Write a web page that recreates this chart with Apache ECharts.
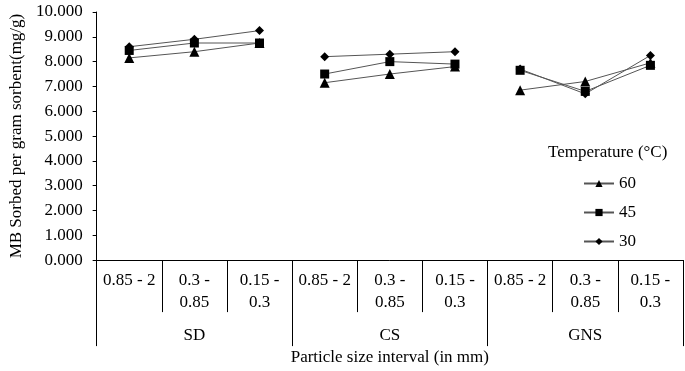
<!DOCTYPE html>
<html>
<head>
<meta charset="utf-8">
<script src="https://cdn.jsdelivr.net/npm/echarts@6/dist/echarts.min.js"></script>
<style>
  html, body { margin: 0; padding: 0; background: #fff; }
  #chart { width: 685px; height: 371px; }
</style>
</head>
<body>
<div id="chart"></div>
<script>
// particle size intervals within each sorbent
const sizes = ['0.85 - 2', '0.3 -\n0.85', '0.15 -\n0.3'];
const groups = ['SD', 'CS', 'GNS'];
const yTicks = [0, 10, 1];   // min, max, step

// MB sorbed (mg/g), 9 points: SD x3, CS x3, GNS x3
const t60 = [8.15, 8.4, 8.75, 7.15, 7.5, 7.8, 6.85, 7.2, 7.95];
const t45 = [8.45, 8.75, 8.75, 7.5, 8.0, 7.9, 7.65, 6.8, 7.85];
const t30 = [8.6, 8.9, 9.25, 8.2, 8.3, 8.4, 7.7, 6.7, 8.25];

const font = 'Liberation Serif';
const categories = [];
groups.forEach(g => sizes.forEach(s => categories.push(s)));

// one series per sorbent so the line breaks between groups
function makeSeries(name, values, symbol, size) {
  return groups.map((g, gi) => ({
    name: name,
    type: 'line',
    symbol: symbol,
    symbolSize: size,
    connectNulls: false,
    lineStyle: { color: '#555', width: 1 },
    itemStyle: { color: '#000' },
    data: values.map((v, i) => (Math.floor(i / 3) === gi ? v : null))
  }));
}

const chart = echarts.init(document.getElementById('chart'));
chart.setOption({
  animation: false,
  textStyle: { fontFamily: font },
  grid: { left: 88, right: 2, top: 12, bottom: 109 },
  title: {
    text: 'Temperature (°C)',
    left: 548,
    top: 144,
    padding: 0,
    textStyle: { fontFamily: font, fontSize: 17, fontWeight: 'normal', color: '#000' }
  },
  legend: {
    orient: 'vertical',
    left: 583,
    top: 175,
    padding: 0,
    itemGap: 12,
    itemWidth: 30,
    itemHeight: 9,
    textStyle: { fontFamily: font, fontSize: 17, color: '#000' },
    data: ['60', '45', '30']
  },
  xAxis: [
    {
      type: 'category',
      data: categories,
      axisLine: { show: true, lineStyle: { color: '#000', width: 1 } },
      axisTick: { show: true, interval: 0, length: 52, lineStyle: { color: '#000' } },
      axisLabel: { interval: 0, margin: 9, color: '#000', fontSize: 17, fontFamily: font, lineHeight: 22 }
    },
    {
      type: 'category',
      position: 'bottom',
      data: groups,
      axisLine: { show: false },
      axisTick: { show: true, interval: 0, length: 86, lineStyle: { color: '#000' } },
      axisLabel: { margin: 67, color: '#000', fontSize: 17, fontFamily: font },
      name: 'Particle size interval (in mm)',
      nameLocation: 'middle',
      nameGap: 87,
      nameTextStyle: { color: '#000', fontSize: 17, fontFamily: font }
    }
  ],
  yAxis: {
    type: 'value',
    min: yTicks[0],
    max: yTicks[1],
    interval: yTicks[2],
    splitLine: { show: false },
    axisLine: { show: true, lineStyle: { color: '#000' } },
    axisTick: { show: true, length: 4, lineStyle: { color: '#000' } },
    axisLabel: { margin: 14, color: '#000', fontSize: 17, fontFamily: font, formatter: v => v.toFixed(3) },
    name: 'MB Sorbed per gram sorbent(mg/g)',
    nameLocation: 'middle',
    nameRotate: 90,
    nameGap: 67,
    nameTextStyle: { color: '#000', fontSize: 17, fontFamily: font }
  },
  series: [].concat(
    makeSeries('60', t60, 'triangle', 10),
    makeSeries('45', t45, 'rect', 9),
    makeSeries('30', t30, 'diamond', 9)
  )
});
</script>
</body>
</html>
